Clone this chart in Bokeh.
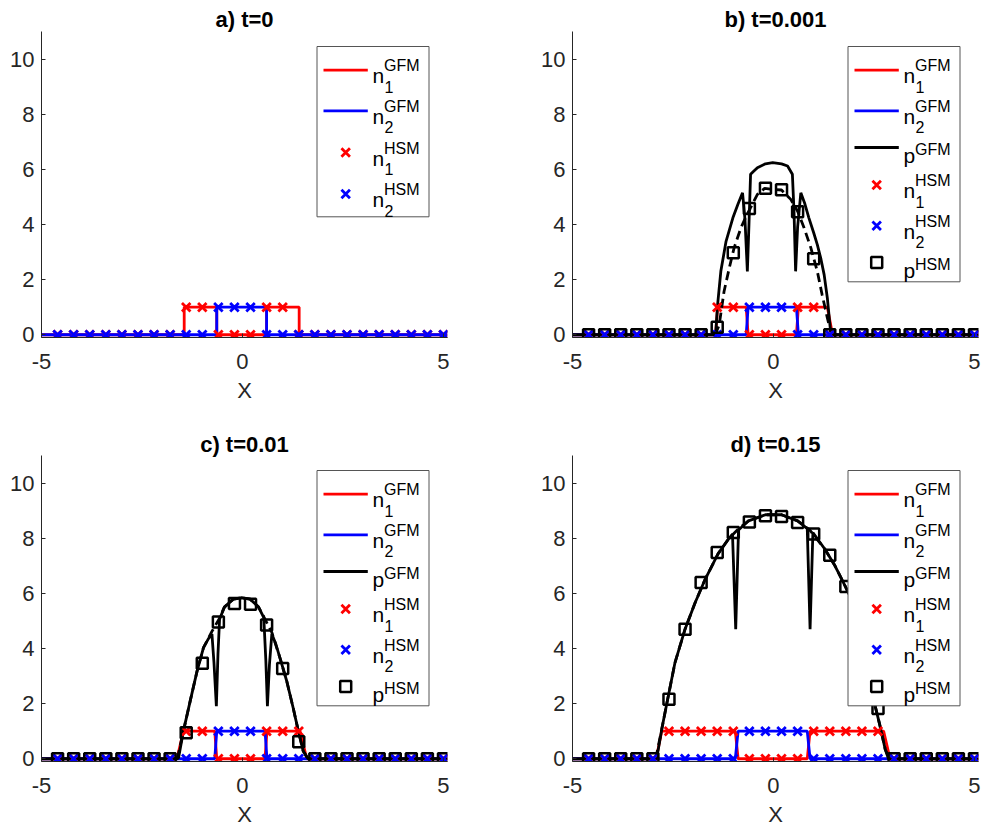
from bokeh.plotting import figure
from bokeh.layouts import column, row
from bokeh.models import Range1d, FixedTicker, Label
from bokeh.embed import file_html
from bokeh.resources import INLINE

FONT = "Liberation Sans"
RED, BLUE, BLACK = "#FF0000", "#0000FF", "#000000"
AXC = "#262626"
LW = 2.8

# ---------------- data ----------------
X_RANGE = (-5.0, 5.1)
Y_RANGE = (-0.1, 11.0)
X_TICKS = [-5, 0, 5]
Y_TICKS = [0, 2, 4, 6, 8, 10]
X_LABEL = "X"
TITLES = ["a) t=0", "b) t=0.001", "c) t=0.01", "d) t=0.15"]

# HSM sample positions (markers)
x_hsm = [-4.6, -4.2, -3.8, -3.4, -3.0, -2.6, -2.2, -1.8, -1.4, -1.0, -0.6, -0.2,
         0.2, 0.6, 1.0, 1.4, 1.8, 2.2, 2.6, 3.0, 3.4, 3.8, 4.2, 4.6, 5.0]

n1_hsm_a = [0, 0, 0, 0, 0, 0, 0, 0, 1, 1, 0, 0, 0, 1, 1, 0, 0, 0, 0, 0, 0, 0, 0, 0, 0]
n2_hsm_a = [0, 0, 0, 0, 0, 0, 0, 0, 0, 0, 1, 1, 1, 0, 0, 0, 0, 0, 0, 0, 0, 0, 0, 0, 0]

n1_hsm_b = [0, 0, 0, 0, 0, 0, 0, 0, 1, 1, 0, 0, 0, 1, 1, 0, 0, 0, 0, 0, 0, 0, 0, 0, 0]
n2_hsm_b = [0, 0, 0, 0, 0, 0, 0, 0, 0, 0, 1, 1, 1, 0, 0, 0, 0, 0, 0, 0, 0, 0, 0, 0, 0]
p_hsm_b = [0, 0, 0, 0, 0, 0, 0, 0, 0.27, 2.97, 4.58, 5.31, 5.26, 4.46, 2.76, 0,
           0, 0, 0, 0, 0, 0, 0, 0, 0]

n1_hsm_c = [0, 0, 0, 0, 0, 0, 0, 0, 1, 1, 0, 0, 0, 1, 1, 1, 0, 0, 0, 0, 0, 0, 0, 0, 0]
n2_hsm_c = [0, 0, 0, 0, 0, 0, 0, 0, 0, 0, 1, 1, 1, 0, 0, 0, 0, 0, 0, 0, 0, 0, 0, 0, 0]
p_hsm_c = [0, 0, 0, 0, 0, 0, 0, 0, 0.94, 3.46, 4.96, 5.63, 5.60, 4.85, 3.27, 0.62,
           0, 0, 0, 0, 0, 0, 0, 0, 0]

n1_hsm_d = [0, 0, 0, 0, 0, 1, 1, 1, 1, 1, 0, 0, 0, 0, 1, 1, 1, 1, 1, 0, 0, 0, 0, 0, 0]
n2_hsm_d = [0, 0, 0, 0, 0, 0, 0, 0, 0, 0, 1, 1, 1, 1, 0, 0, 0, 0, 0, 0, 0, 0, 0, 0, 0]
p_hsm_d = [0, 0, 0, 0, 0, 2.16, 4.70, 6.39, 7.48, 8.21, 8.59, 8.81, 8.79, 8.57,
           8.15, 7.38, 6.25, 4.60, 1.82, 0, 0, 0, 0, 0, 0]

# GFM densities (step profiles)
gfm_x_a = [-5.0, -1.45, -1.45, -0.64, -0.64, 0.60, 0.60, 1.41, 1.41, 5.1]
gfm_x_b = [-5.0, -1.44, -1.39, -0.68, -0.63, 0.57, 0.62, 1.34, 1.47, 5.1]
gfm_x_c = [-5.0, -1.63, -1.47, -0.69, -0.64, 0.56, 0.61, 1.43, 1.60, 5.1]
gfm_x_d = [-5.0, -2.92, -2.78, -0.95, -0.88, 0.84, 0.91, 2.74, 2.90, 5.1]
n1_gfm = [0, 0, 1, 1, 0, 0, 1, 1, 0, 0]
n2_gfm = [0, 0, 0, 0, 1, 1, 0, 0, 0, 0]

# GFM pressure
p_gfm_x_b = [-5.0, -1.45, -1.435, -1.39, -1.31, -1.18, -1.01, -0.88, -0.77, -0.71, -0.65,
             -0.61, -0.57, -0.5, -0.4, -0.2, -0.02, 0.2, 0.35, 0.47, 0.51, 0.55, 0.6,
             0.68, 0.78, 0.88, 1.0, 1.09, 1.18, 1.26, 1.34, 1.42, 1.46, 5.1]
p_gfm_b = [0, 0, 0.12, 1.09, 2.3, 3.39, 4.24, 4.75, 5.15, 4.2, 2.3, 4.0, 5.82, 5.92,
           6.06, 6.2, 6.24, 6.2, 6.12, 5.82, 4.5, 2.3, 3.9, 5.15, 4.75, 4.24, 3.7, 3.27,
           2.75, 2.18, 1.33, 0.12, 0, 0]
p_gfm_x_c = [-5.0, -1.62, -1.59, -1.47, -1.3, -1.13, -0.97, -0.85, -0.76, -0.71, -0.65,
             -0.61, -0.57, -0.45, -0.23, -0.02, 0.19, 0.4, 0.53, 0.58, 0.62, 0.67, 0.73,
             0.82, 0.93, 1.1, 1.26, 1.39, 1.51, 1.63, 1.66, 5.1]
p_gfm_c = [0, 0, 0.04, 1.0, 2.1, 3.18, 4.03, 4.35, 4.52, 3.5, 1.91, 3.8, 5.06, 5.5, 5.79,
           5.84, 5.79, 5.5, 5.12, 3.6, 1.91, 3.4, 4.52, 4.2, 3.67, 2.82, 1.85, 1.0, 0.28,
           0.0, 0, 0]
p_gfm_x_d = [-5.0, -2.93, -2.9, -2.78, -2.65, -2.45, -2.2, -1.95, -1.7, -1.38, -1.12,
             -1.02, -0.94, -0.87, -0.62, -0.2, 0.2, 0.6, 0.84, 0.91, 0.98, 1.28, 1.53,
             1.78, 2.0, 2.2, 2.4, 2.53, 2.65, 2.78, 2.86, 5.1]
p_gfm_d = [0, 0, 0.05, 1.07, 2.03, 3.49, 4.7, 5.66, 6.51, 7.43, 7.97, 8.15, 4.7, 8.3,
           8.63, 8.85, 8.85, 8.63, 8.35, 4.7, 8.2, 7.6, 7.0, 6.27, 5.6, 4.7, 3.4, 1.91,
           1.19, 0.34, 0, 0]

# dashed pressure profile
p_dash_x_b = [-1.45, -1.35, -1.23, -1.1, -0.98, -0.81, -0.68, -0.58, -0.4, -0.22, 0.0,
              0.2, 0.43, 0.6, 0.76, 0.93, 1.09, 1.21, 1.34, 1.42]
p_dash_b = [0, 0.36, 1.57, 2.42, 3.15, 3.88, 4.30, 4.58, 5.09, 5.31, 5.27, 5.25, 4.91,
            4.48, 3.88, 3.15, 2.3, 1.45, 0.61, 0.12]
p_dash_x_c = [-1.62, -1.47, -1.3, -1.13, -0.97, -0.76, -0.57, -0.45, -0.23, -0.02, 0.19,
              0.4, 0.53, 0.73, 0.93, 1.1, 1.26, 1.39, 1.51, 1.63]
p_dash_c = [0, 1.0, 2.1, 3.18, 4.03, 4.62, 5.1, 5.5, 5.79, 5.84, 5.79, 5.5, 5.15, 4.58,
            3.67, 2.82, 1.85, 1.0, 0.28, 0]
p_dash_x_d = [-2.93, -2.78, -2.65, -2.45, -2.2, -1.95, -1.7, -1.38, -1.12, -0.9, -0.62,
              -0.2, 0.2, 0.6, 0.9, 1.28, 1.53, 1.78, 2.0, 2.2, 2.4, 2.53, 2.65, 2.78, 2.88]
p_dash_d = [0, 1.07, 2.03, 3.49, 4.7, 5.66, 6.51, 7.43, 7.97, 8.3, 8.63, 8.85, 8.85, 8.63,
            8.3, 7.6, 7.0, 6.27, 5.6, 4.7, 3.4, 1.91, 1.19, 0.34, 0]

# ---------------- layout ----------------
FW, FH = 406, 306   # pixels spanned by X_RANGE and Y_RANGE


def dx(px):
    return px * (X_RANGE[1] - X_RANGE[0]) / FW


def dy(px):
    return px * (Y_RANGE[1] - Y_RANGE[0]) / FH


def make_panel(title, lay, gfm_x, n1_h, n2_h, p_x=None, p_y=None, pd_x=None, pd_y=None,
               p_h=None, title_gap=8):
    width, height, bl, br, bb, pad_top = lay
    y_top = Y_RANGE[1] + dy(pad_top)   # room above the axes for the title
    p = figure(width=width, height=height,
               x_range=Range1d(*X_RANGE), y_range=Range1d(Y_RANGE[0], y_top),
               output_backend="svg", toolbar_location=None,
               min_border_left=bl, min_border_right=br,
               min_border_top=0, min_border_bottom=bb)
    p.outline_line_color = None
    p.grid.visible = False
    p.background_fill_color = "white"
    p.border_fill_color = "white"

    for ax in (p.xaxis[0], p.yaxis[0]):
        ax.axis_line_color = AXC
        ax.axis_line_width = 1
        ax.major_tick_line_color = AXC
        ax.major_tick_in = 4
        ax.major_tick_out = 0
        ax.minor_tick_line_color = None
        ax.major_label_text_font = FONT
        ax.major_label_text_font_size = "22px"
        ax.major_label_text_color = AXC
    p.yaxis.bounds = Y_RANGE
    p.xaxis.ticker = FixedTicker(ticks=X_TICKS)
    p.yaxis.ticker = FixedTicker(ticks=Y_TICKS)
    p.xaxis.major_label_overrides = {t: str(t) for t in X_TICKS}
    p.xaxis.major_label_standoff = 16
    p.yaxis.major_label_standoff = 7
    p.xaxis.axis_label = X_LABEL
    p.xaxis.axis_label_text_font = FONT
    p.xaxis.axis_label_text_font_size = "22px"
    p.xaxis.axis_label_text_font_style = "normal"
    p.xaxis.axis_label_text_color = AXC
    p.xaxis.axis_label_standoff = 6

    # curves
    p.line(gfm_x, n1_gfm, line_color=RED, line_width=LW)
    p.line(gfm_x, n2_gfm, line_color=BLUE, line_width=LW)
    has_p = p_y is not None
    if has_p:
        p.line(pd_x, pd_y, line_color=BLACK, line_width=2.8, line_dash="9 5")
        p.line(p_x, p_y, line_color=BLACK, line_width=LW)
    p.scatter(x_hsm, n1_h, marker="x", size=12, line_color=RED, line_width=2.8)
    p.scatter(x_hsm, n2_h, marker="x", size=12, line_color=BLUE, line_width=2.8)
    if has_p:
        p.scatter(x_hsm, p_h, marker="square", size=11, line_color=BLACK,
                  fill_color=None, line_width=2.5)

    # title
    p.add_layout(Label(x=(X_RANGE[0] + X_RANGE[1]) / 2, y=Y_RANGE[1], y_offset=title_gap,
                       text=title, text_font=FONT, text_font_size="22px",
                       text_font_style="bold", text_color=BLACK,
                       text_align="center", text_baseline="alphabetic"))

    # legend (drawn manually: TeX-like sub/superscripts)
    entries = [("line", RED, "n", "GFM", "1"), ("line", BLUE, "n", "GFM", "2")]
    if has_p:
        entries.append(("line", BLACK, "p", "GFM", None))
    entries += [("x", RED, "n", "HSM", "1"), ("x", BLUE, "n", "HSM", "2")]
    if has_p:
        entries.append(("square", BLACK, "p", "HSM", None))
    offs = [23.6, 64.3, 101.0, 138.6, 179.3, 216.0] if has_p else [23.6, 64.3, 106.0, 147.6]
    box_h = 235.3 if has_p else 170.3
    right = X_RANGE[1] - dx(18.5)
    left = right - dx(112)
    top = Y_RANGE[1] - dy(15)
    bottom = top - dy(box_h)
    p.quad(left=[left], right=[right], top=[top], bottom=[bottom],
           fill_color="white", line_color="#555555", line_width=1)
    for (kind, col, main, sup, sub), off in zip(entries, offs):
        yc = top - dy(off)
        if kind == "line":
            p.line([left + dx(6.5), left + dx(50.8)], [yc, yc], line_color=col, line_width=LW)
        elif kind == "x":
            p.scatter([left + dx(28.7)], [yc], marker="x", size=12, line_color=col,
                      line_width=2.8)
        else:
            p.scatter([left + dx(28.7)], [yc], marker="square", size=11, line_color=col,
                      fill_color=None, line_width=2.5)
        if main == "n":
            mb, sb = 5.7, -4.3
        else:
            mb, sb = 8.0, 2.2
        p.add_layout(Label(x=left, y=top, x_offset=55.5, y_offset=-(off + mb), text=main,
                           text_font=FONT, text_font_size="21px", text_color=BLACK,
                           text_baseline="alphabetic", text_align="left"))
        p.add_layout(Label(x=left, y=top, x_offset=67.0, y_offset=-(off + sb), text=sup,
                           text_font=FONT, text_font_size="16px", text_color=BLACK,
                           text_baseline="alphabetic", text_align="left"))
        if sub:
            p.add_layout(Label(x=left, y=top, x_offset=67.5, y_offset=-(off + 16.4),
                               text=sub, text_font=FONT, text_font_size="16px",
                               text_color=BLACK, text_baseline="alphabetic",
                               text_align="left"))
    return p


# (width, height, border_left, border_right, border_bottom, pad_above_axes)
LAY_A = (491, 415, 41, 44, 78, 31)
LAY_B = (491, 415, 81, 4, 78, 31)
LAY_C = (491, 415, 41, 44, 69, 40)
LAY_D = (491, 415, 81, 4, 69, 40)

pa = make_panel(TITLES[0], LAY_A, gfm_x_a, n1_hsm_a, n2_hsm_a, title_gap=12)
pb = make_panel(TITLES[1], LAY_B, gfm_x_b, n1_hsm_b, n2_hsm_b, p_gfm_x_b, p_gfm_b,
                p_dash_x_b, p_dash_b, p_hsm_b, title_gap=12)
pc = make_panel(TITLES[2], LAY_C, gfm_x_c, n1_hsm_c, n2_hsm_c, p_gfm_x_c, p_gfm_c,
                p_dash_x_c, p_dash_c, p_hsm_c, title_gap=11.5)
pd = make_panel(TITLES[3], LAY_D, gfm_x_d, n1_hsm_d, n2_hsm_d, p_gfm_x_d, p_gfm_d,
                p_dash_x_d, p_dash_d, p_hsm_d, title_gap=11.5)

layout = column(row(pa, pb), row(pc, pd))
open("out.html", "w").write(file_html(layout, INLINE))
